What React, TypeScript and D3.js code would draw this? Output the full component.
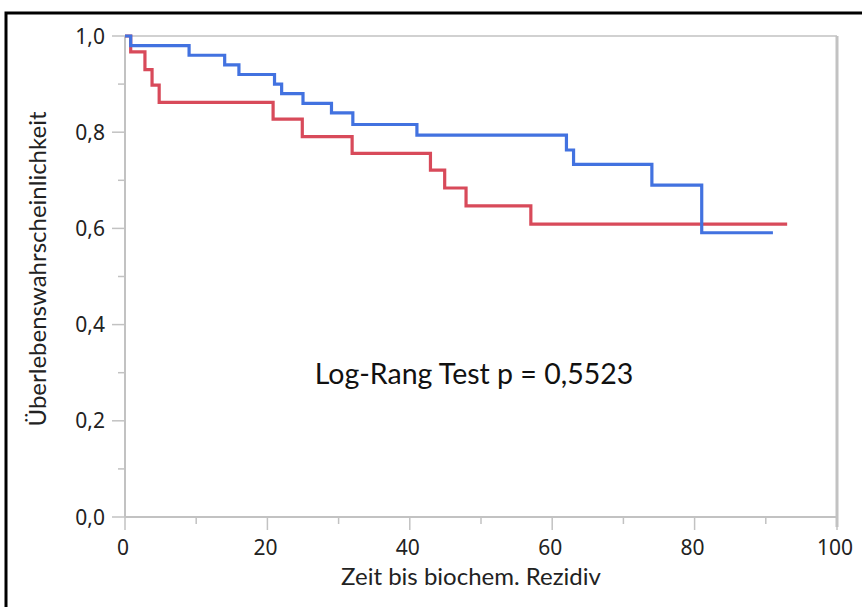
import React from "react";
import * as d3 from "d3";

const blueTimes = [0, 0.8, 9, 14, 16, 21, 22, 25, 29, 32, 41, 62, 63, 74, 81, 91];
const blueSurv = [1, 0.98, 0.96, 0.94, 0.92, 0.9, 0.88, 0.86, 0.84, 0.816, 0.794, 0.763, 0.733, 0.69, 0.591, 0.591];
const redTimes = [0, 0.8, 2.8, 3.8, 4.8, 20.8, 24.9, 31.9, 42.9, 44.9, 47.9, 57, 93];
const redSurv = [1, 0.967, 0.93, 0.898, 0.862, 0.827, 0.791, 0.756, 0.721, 0.684, 0.647, 0.609, 0.609];

const xMajor = [0, 20, 40, 60, 80, 100];
const xMinor = [10, 30, 50, 70, 90];
const yMajor = [0, 0.2, 0.4, 0.6, 0.8, 1.0];
const yMinor = [0.1, 0.3, 0.5, 0.7, 0.9];

const xTitle = "Zeit bis biochem. Rezidiv";
const yTitle = "Überlebenswahrscheinlichkeit";
const annotation = "Log-Rang Test p = 0,5523";

const fmtY = (v: number) => v.toFixed(1).replace(".", ",");

export default function App() {
  const left = 125, right = 837, top = 36, bottom = 517;
  const x = d3.scaleLinear().domain([0, 100]).range([left, right]);
  const y = d3.scaleLinear().domain([0, 1]).range([bottom, top]);
  const line = d3
    .line<[number, number]>()
    .x((d) => x(d[0]))
    .y((d) => y(d[1]))
    .curve(d3.curveStepAfter);
  const blueData = blueTimes.map((t, i) => [t, blueSurv[i]] as [number, number]);
  const redData = redTimes.map((t, i) => [t, redSurv[i]] as [number, number]);
  const grey = "#c2c2c2";
  const tickFont = "'Noto Sans', 'Open Sans', sans-serif";
  const titleFont = "Lato, 'Open Sans', sans-serif";

  return (
    <svg
      width={862}
      height={607}
      style={{ position: "absolute", left: 0, top: 0, background: "#fff" }}
    >
      <rect x={0} y={0} width={862} height={607} fill="#fff" />
      <rect x={6} y={13} width={900} height={700} fill="none" stroke="#000" strokeWidth={3} />
      {/* plot frame */}
      <line x1={left} x2={right} y1={top} y2={top} stroke={grey} strokeWidth={1.5} />
      <line x1={right} x2={right} y1={top} y2={bottom + 10} stroke={grey} strokeWidth={3} />
      <line x1={left} x2={left} y1={top} y2={bottom} stroke={grey} strokeWidth={2} />
      <line x1={left} x2={right} y1={bottom} y2={bottom} stroke={grey} strokeWidth={2} />
      {/* y ticks */}
      {yMajor.map((v) => (
        <g key={"ym" + v}>
          <line x1={left - 13} x2={left} y1={y(v)} y2={y(v)} stroke={grey} strokeWidth={1.5} />
          <text
            x={left - 20}
            y={y(v) + 7.5}
            textAnchor="end"
            fontSize={21}
            fontFamily={tickFont}
            fill="#222"
          >
            {fmtY(v)}
          </text>
        </g>
      ))}
      {yMinor.map((v) => (
        <line key={"yn" + v} x1={left - 7} x2={left} y1={y(v)} y2={y(v)} stroke={grey} strokeWidth={1.5} />
      ))}
      {/* x ticks */}
      {xMajor.map((v) => (
        <g key={"xm" + v}>
          <line x1={x(v)} x2={x(v)} y1={bottom} y2={bottom + 13} stroke={grey} strokeWidth={1.5} />
          <text
            x={x(v) - 2}
            y={bottom + 38}
            textAnchor="middle"
            fontSize={21}
            fontFamily={tickFont}
            fill="#222"
          >
            {v}
          </text>
        </g>
      ))}
      {xMinor.map((v) => (
        <line key={"xn" + v} x1={x(v)} x2={x(v)} y1={bottom} y2={bottom + 7} stroke={grey} strokeWidth={1.5} />
      ))}
      {/* curves */}
      <path d={line(redData) || ""} fill="none" stroke="#d84a5a" strokeWidth={3.2} />
      <path d={line(blueData) || ""} fill="none" stroke="#4272e0" strokeWidth={3.2} />
      {/* titles */}
      <text x={471} y={585} textAnchor="middle" fontSize={24} fontFamily={titleFont} fill="#222">
        {xTitle}
      </text>
      <text
        transform={`translate(46,269) rotate(-90)`}
        textAnchor="middle"
        fontSize={24}
        fontFamily={titleFont}
        fill="#222"
      >
        {yTitle}
      </text>
      <text x={474} y={384} textAnchor="middle" fontSize={28.5} fontFamily={titleFont} fill="#111">
        {annotation}
      </text>
    </svg>
  );
}
